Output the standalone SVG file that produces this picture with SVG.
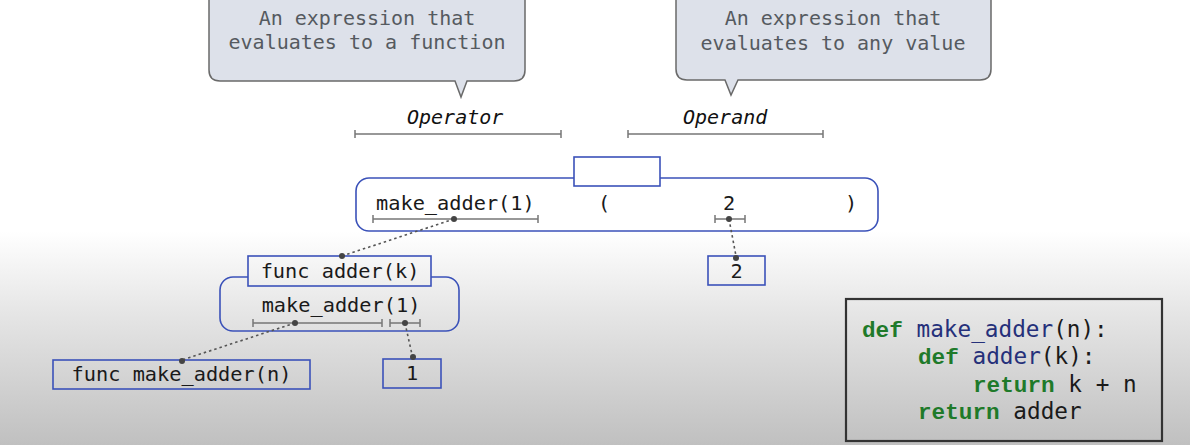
<svg xmlns="http://www.w3.org/2000/svg" width="1190" height="445" viewBox="0 0 1190 445">
<defs>
<linearGradient id="bg" x1="0" y1="0" x2="0" y2="445" gradientUnits="userSpaceOnUse">
<stop offset="0" stop-color="#ffffff"/>
<stop offset="0.52" stop-color="#ffffff"/>
<stop offset="0.7" stop-color="#e6e6e6"/>
<stop offset="1" stop-color="#c0c0c0"/>
</linearGradient>
<style>
.mono{font-family:"DejaVu Sans Mono","Liberation Mono",monospace;}
.callout{fill:#dde1ea;stroke:#6a6a6a;stroke-width:1.5;}
.ctext{font-size:20px;fill:#555a60;text-anchor:middle;}
.label{font-size:20px;font-style:italic;fill:#111;}
.span{stroke:#777;stroke-width:1.5;fill:none;}
.blue{fill:none;stroke:#3b52b9;stroke-width:1.6;}
.bluef{fill:url(#bg);stroke:#3b52b9;stroke-width:1.6;}
.t{font-size:20.3px;fill:#1a1a1a;}
.dot{fill:#444;}
.conn{stroke:#555;stroke-width:1.6;stroke-dasharray:2.5,3;fill:none;}
.code{font-size:22.7px;fill:#1a1a1a;}
.kw{fill:#1f7a2a;font-weight:bold;font-family:"Liberation Mono","DejaVu Sans Mono",monospace;}
.fn{fill:#25307a;}
</style>
</defs>
<rect x="0" y="0" width="1190" height="445" fill="url(#bg)"/>

<g id="callout-operator">
<path class="callout" d="M209,-10 L525,-10 L525,70 Q525,81 514,81 L467,81 L461,97 L455,81 L220,81 Q209,81 209,70 Z"/>
<text class="mono ctext" x="367" y="25">An expression that</text>
<text class="mono ctext" x="367" y="49">evaluates to a function</text>
</g>

<g id="callout-operand">
<path class="callout" d="M676,-10 L991,-10 L991,69 Q991,80 980,80 L738,80 L731,95 L725,80 L687,80 Q676,80 676,69 Z"/>
<text class="mono ctext" x="833" y="25">An expression that</text>
<text class="mono ctext" x="833" y="50">evaluates to any value</text>
</g>

<g id="label-operator">
<text class="mono label" x="407" y="124">Operator</text>
<path class="span" d="M355,134 H561 M355,130 V138 M561,130 V138"/>
</g>

<g id="label-operand">
<text class="mono label" x="683" y="124">Operand</text>
<path class="span" d="M628,134 H823 M628,130 V138 M823,130 V138"/>
</g>

<g id="call-expression">
<rect class="blue" x="356" y="178" width="522" height="53" rx="13"/>
<rect class="bluef" x="574" y="157" width="86" height="29"/>
<text class="mono t" x="376" y="210">make_adder(1)</text>
<text class="mono t" x="604" y="210" text-anchor="middle">(</text>
<text class="mono t" x="729" y="210" text-anchor="middle">2</text>
<text class="mono t" x="851" y="210" text-anchor="middle">)</text>
<path class="span" d="M373,219 H538 M373,215 V223 M538,215 V223"/>
<path class="span" d="M715,219 H745 M715,215 V223 M745,215 V223"/>
</g>

<g id="inner-call">
<rect class="blue" x="220" y="277" width="239" height="54" rx="13"/>
<rect class="bluef" x="248" y="256" width="183" height="30"/>
<text class="mono t" x="340" y="278" text-anchor="middle">func adder(k)</text>
<text class="mono t" x="341" y="312" text-anchor="middle">make_adder(1)</text>
<path class="span" d="M253,323 H382 M253,319 V327 M382,319 V327"/>
<path class="span" d="M390,323 H420 M390,319 V327 M420,319 V327"/>
</g>

<g id="value-2">
<rect class="blue" x="708" y="256" width="57" height="29"/>
<text class="mono t" x="736.5" y="278" text-anchor="middle">2</text>
</g>

<g id="func-make-adder">
<rect class="blue" x="53" y="360" width="257" height="29"/>
<text class="mono t" x="181.5" y="381" text-anchor="middle">func make_adder(n)</text>
</g>

<g id="value-1">
<rect class="blue" x="383" y="359" width="58" height="29"/>
<text class="mono t" x="412" y="380" text-anchor="middle">1</text>
</g>

<g id="connectors">
<path class="conn" d="M454,219 L342,256"/>
<path class="conn" d="M729,219 L736,256"/>
<path class="conn" d="M295,323 L182,360"/>
<path class="conn" d="M405,323 L413,359"/>
<circle class="dot" cx="454" cy="219" r="3"/>
<circle class="dot" cx="342" cy="256" r="3"/>
<circle class="dot" cx="729" cy="219" r="3"/>
<circle class="dot" cx="736" cy="258" r="3"/>
<circle class="dot" cx="295" cy="323" r="3"/>
<circle class="dot" cx="182" cy="361" r="3"/>
<circle class="dot" cx="405" cy="323" r="3"/>
<circle class="dot" cx="413" cy="357" r="3"/>
</g>

<g id="code">
<rect x="846" y="299" width="316" height="142" fill="none" stroke="#333" stroke-width="2.2"/>
<text class="mono code" x="862" y="337" xml:space="preserve"><tspan class="kw">def</tspan> <tspan class="fn">make_adder</tspan>(n):</text>
<text class="mono code" x="918" y="364" xml:space="preserve"><tspan class="kw">def</tspan> <tspan class="fn">adder</tspan>(k):</text>
<text class="mono code" x="973" y="392" xml:space="preserve"><tspan class="kw">return</tspan> k + n</text>
<text class="mono code" x="918" y="419" xml:space="preserve"><tspan class="kw">return</tspan> adder</text>
</g>
</svg>
